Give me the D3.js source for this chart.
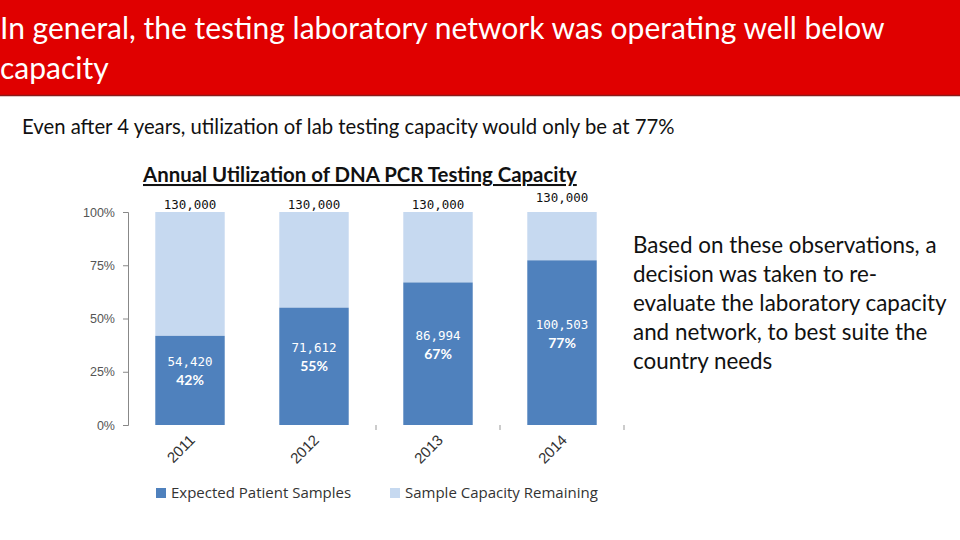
<!DOCTYPE html>
<html>
<head>
<meta charset="utf-8">
<script src="https://cdn.jsdelivr.net/npm/d3@7"></script>
<style>
  body { margin: 0; background: #fff; }
  svg { display: block; }
</style>
</head>
<body>
<svg id="chart" width="960" height="540"></svg>
<script>
// data
const years = ["2011", "2012", "2013", "2014"];
const expected = [54420, 71612, 86994, 100503];
const capacity = [130000, 130000, 130000, 130000];
const percentLabels = ["42%", "55%", "67%", "77%"];
const yTicks = [0, 0.25, 0.5, 0.75, 1];
const seriesNames = ["Expected Patient Samples", "Sample Capacity Remaining"];
const noteLines = [
  "Based on these observations, a",
  "decision was taken to re-",
  "evaluate the laboratory capacity",
  "and network, to best suite the",
  "country needs"
];

const dark = "#4F81BD", light = "#C6D9F0";
const fmt = d3.format(",");
const svg = d3.select("#chart");

// header band
svg.append("rect").attr("x", 0).attr("y", 0).attr("width", 960).attr("height", 96).attr("fill", "#E00000");
svg.append("line").attr("x1", 0).attr("x2", 960).attr("y1", 95.5).attr("y2", 95.5).attr("stroke", "#8a1a1a").attr("stroke-width", 1.5);
const head = svg.append("text").attr("fill", "#fff").style("font-family", "Lato").style("font-size", "30px");
head.append("tspan").attr("x", 0).attr("y", 39).text("In general, the testing laboratory network was operating well below");
head.append("tspan").attr("x", 0).attr("y", 79).text("capacity");

svg.append("text").attr("x", 22).attr("y", 134).attr("fill", "#111")
  .style("font-family", "Lato").style("font-size", "20.3px")
  .text("Even after 4 years, utilization of lab testing capacity would only be at 77%");

// chart title
svg.append("text").attr("x", 143).attr("y", 182).attr("fill", "#111")
  .style("font-family", "Lato").style("font-size", "20.4px").style("font-weight", "bold")
  .style("text-decoration", "underline")
  .text("Annual Utilization of DNA PCR Testing Capacity");

const x = d3.scaleBand().domain(years).range([128, 624]).paddingInner(0.44).paddingOuter(0.22);
const y = d3.scaleLinear().domain([0, 1]).range([425, 212]);

// y axis
const yAxis = svg.append("g").attr("transform", "translate(128,0)")
  .call(d3.axisLeft(y).tickValues(yTicks).tickFormat(d3.format(".0%")).tickSizeOuter(0).tickSize(5));
yAxis.select(".domain").attr("stroke", "#888");
yAxis.selectAll(".tick line").attr("stroke", "#888");
yAxis.selectAll(".tick text").attr("fill", "#555").style("font-family", "Liberation Sans").style("font-size", "12.5px").attr("x", -13);

// x tick marks at the later category boundaries (the first one is not drawn in the source)
const step = x.step();
const x0 = x(years[0]) - step * x.paddingOuter();
svg.append("g").selectAll("line")
  .data(years.slice(2).concat(["end"]))
  .join("line")
  .attr("x1", (d, i) => x0 + step * (i + 2))
  .attr("x2", (d, i) => x0 + step * (i + 2))
  .attr("y1", 425).attr("y2", 430).attr("stroke", "#999");

// bars
const rows = years.map((yr, i) => ({ yr, used: expected[i] / capacity[i], cap: capacity[i], val: expected[i], pct: percentLabels[i] }));
svg.append("g").selectAll("rect").data(rows).join("rect")
  .attr("x", d => x(d.yr)).attr("width", x.bandwidth())
  .attr("y", d => y(1)).attr("height", d => y(d.used) - y(1)).attr("fill", light);
svg.append("g").selectAll("rect").data(rows).join("rect")
  .attr("x", d => x(d.yr)).attr("width", x.bandwidth())
  .attr("y", d => y(d.used)).attr("height", d => y(0) - y(d.used)).attr("fill", dark);

// capacity labels above bars
svg.append("g").selectAll("text").data(rows).join("text")
  .attr("x", d => x(d.yr) + x.bandwidth() / 2)
  .attr("y", (d, i) => y(1) - (i === 3 ? 10 : 3))
  .attr("text-anchor", "middle").attr("fill", "#111")
  .style("font-family", "DejaVu Sans Mono").style("font-size", "12.5px")
  .text(d => fmt(d.cap));

// value + percent inside the dark part
const inner = svg.append("g").selectAll("g").data(rows).join("g")
  .attr("transform", d => `translate(${x(d.yr) + x.bandwidth() / 2},${(y(d.used) + y(0)) / 2 - 14})`);
inner.append("text").attr("text-anchor", "middle").attr("fill", "#fff").attr("y", 0)
  .style("font-family", "DejaVu Sans Mono").style("font-size", "12.5px").text(d => fmt(d.val));
inner.append("text").attr("text-anchor", "middle").attr("fill", "#fff").attr("y", 19)
  .style("font-family", "Lato").style("font-size", "14px").style("font-weight", "bold").text(d => d.pct);

// rotated year labels
svg.append("g").selectAll("text").data(years).join("text")
  .attr("transform", d => `translate(${x(d) + x.bandwidth() / 2 + 6},${441}) rotate(-45)`)
  .attr("text-anchor", "end").attr("fill", "#333")
  .style("font-family", "Liberation Sans").style("font-size", "15px")
  .text(d => d);

// legend
const lg = svg.append("g").selectAll("g").data(seriesNames).join("g")
  .attr("transform", (d, i) => `translate(${i === 0 ? 156 : 390},488)`);
lg.append("rect").attr("width", 10).attr("height", 10).attr("fill", (d, i) => i === 0 ? dark : light);
lg.append("text").attr("x", 15).attr("y", 10).attr("fill", "#333")
  .style("font-family", "Open Sans").style("font-size", "15px").text(d => d);

// side note
svg.append("g").selectAll("text").data(noteLines).join("text")
  .attr("x", 633).attr("y", (d, i) => 253 + i * 29).attr("fill", "#111")
  .style("font-family", "Lato").style("font-size", "22.4px")
  .text(d => d);
</script>
</body>
</html>
